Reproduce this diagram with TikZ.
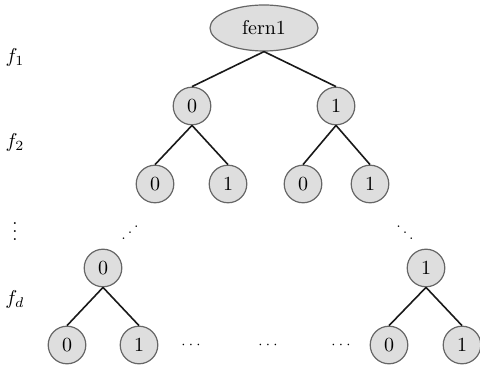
\documentclass[tikz,border=0pt]{standalone}
\usetikzlibrary{shapes.geometric}
\begin{document}
\begin{tikzpicture}[x=0.5pt,y=-0.5pt,
  bit/.style={circle,draw=black!60,fill=black!13,line width=0.6pt,minimum size=18.8pt,inner sep=0pt},
  rootnode/.style={ellipse,draw=black!60,fill=black!13,line width=0.6pt,minimum width=54pt,minimum height=23pt,inner sep=0pt},
  edge/.style={line width=0.8pt,black!90},
  lvl/.style={inner sep=0pt},
  gap/.style={inner sep=0pt,font=\scriptsize}]
\useasboundingbox (0,0) rectangle (480,367);
% root
\node[rootnode] (r) at (264,28) {fern1};
% first split
\node[bit] (a0) at (192,106) {0};
\node[bit] (a1) at (336,106) {1};
% second split
\node[bit] (b00) at (155,184) {0};
\node[bit] (b01) at (228,184) {1};
\node[bit] (b10) at (303,184) {0};
\node[bit] (b11) at (370,184) {1};
% last split
\node[bit] (c0) at (103,268) {0};
\node[bit] (c1) at (426,268) {1};
\node[bit] (d00) at (67,345) {0};
\node[bit] (d01) at (139,345) {1};
\node[bit] (d10) at (389,345) {0};
\node[bit] (d11) at (462,345) {1};
% edges
\draw[edge] (r.south) -- (a0.north);
\draw[edge] (r.south) -- (a1.north);
\draw[edge] (a0.south) -- (b00.north);
\draw[edge] (a0.south) -- (b01.north);
\draw[edge] (a1.south) -- (b10.north);
\draw[edge] (a1.south) -- (b11.north);
\draw[edge] (c0.south) -- (d00.north);
\draw[edge] (c0.south) -- (d01.north);
\draw[edge] (c1.south) -- (d10.north);
\draw[edge] (c1.south) -- (d11.north);
% omitted levels and leaves
\node[gap] (gl) at (130,227) {\reflectbox{$\ddots$}};
\node[gap] (gr) at (405,227) {$\ddots$};
\node[gap] (h1) at (191,345) {$\cdots$};
\node[gap] (h2) at (268,345) {$\cdots$};
\node[gap] (h3) at (341,345) {$\cdots$};
% level labels
\node[lvl] (f1) at (15,58) {$f_1$};
\node[lvl] (f2) at (15,143) {$f_2$};
\node[gap] (fv) at (15,226) {\small$\vdots$};
\node[lvl] (fd) at (15,300) {$f_d$};
\end{tikzpicture}
\end{document}
